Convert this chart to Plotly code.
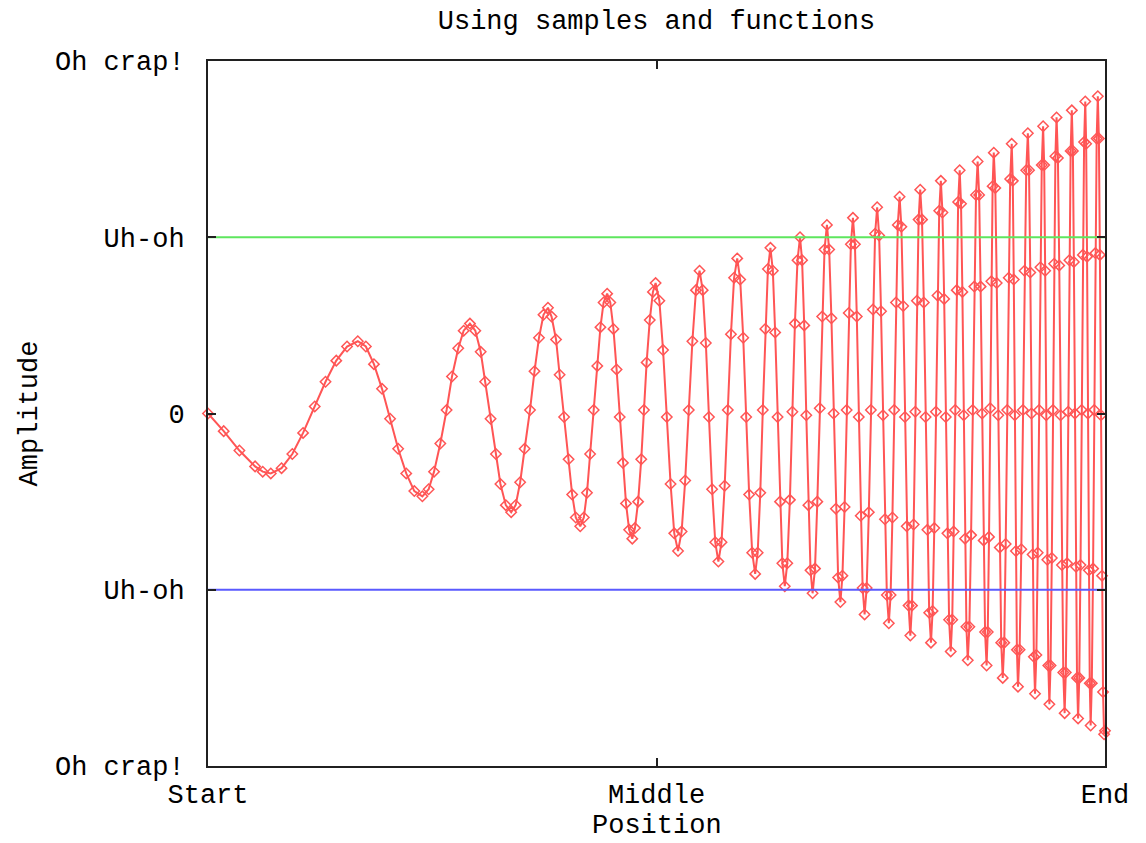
import plotly.graph_objects as go

# ---- data ----
# sampled signal: position (0 = Start, 50 = Middle, 100 = End), amplitude (Uh-oh = 1, Oh crap! = 2)
position = [
    0.0, 1.75, 3.5, 5.25, 6.1, 7.0,
    8.2, 9.4, 10.6, 11.9, 13.1, 14.3, 15.5, 16.7,
    17.6, 18.5, 19.4, 20.3, 21.2, 22.1, 23.0, 23.9,
    24.6, 25.2, 25.9, 26.6, 27.2, 27.9, 28.5, 29.2,
    29.8, 30.4, 30.9, 31.5, 32.1, 32.6, 33.2, 33.8,
    34.3, 34.8, 35.3, 35.9, 36.4, 36.9, 37.4, 37.9,
    38.3, 38.8, 39.2, 39.7, 40.2, 40.6, 41.0, 41.5,
    41.9, 42.25, 42.6, 43.0, 43.4, 43.75, 44.1, 44.5,
    44.85, 45.2, 45.55, 45.9, 46.25, 46.6, 46.95, 47.3,
    47.6, 47.95, 48.3, 48.6, 48.9, 49.25, 49.6, 49.9,
    50.32, 50.73, 51.15, 51.57, 51.98, 52.4,
    52.8, 53.2, 53.6, 54.0, 54.4, 54.8,
    55.15, 55.5, 55.85, 56.2, 56.55, 56.9,
    57.25, 57.6, 57.95, 58.3, 58.65, 59.0,
    59.33, 59.67, 60.0, 60.33, 60.67, 61.0,
    61.28, 61.57, 61.85, 62.13, 62.42, 62.7,
    62.97, 63.23, 63.5, 63.77, 64.03, 64.3,
    64.58, 64.87, 65.15, 65.43, 65.72, 66.0,
    66.23, 66.47, 66.7, 66.93, 67.17, 67.4,
    67.67, 67.93, 68.2, 68.47, 68.73, 69.0,
    69.25, 69.5, 69.75, 70.0, 70.25, 70.5,
    70.73, 70.97, 71.2, 71.43, 71.67, 71.9,
    72.12, 72.33, 72.55, 72.77, 72.98, 73.2,
    73.43, 73.67, 73.9, 74.13, 74.37, 74.6,
    74.82, 75.03, 75.25, 75.47, 75.68, 75.9,
    76.1, 76.3, 76.5, 76.7, 76.9, 77.1,
    77.3, 77.5, 77.7, 77.9, 78.1, 78.3,
    78.48, 78.67, 78.85, 79.03, 79.22, 79.4,
    79.6, 79.8, 80.0, 80.2, 80.4, 80.6,
    80.78, 80.97, 81.15, 81.33, 81.52, 81.7,
    81.88, 82.07, 82.25, 82.43, 82.62, 82.8,
    82.97, 83.13, 83.3, 83.47, 83.63, 83.8,
    83.95, 84.1, 84.25, 84.4, 84.55, 84.7,
    84.88, 85.07, 85.25, 85.43, 85.62, 85.8,
    85.97, 86.13, 86.3, 86.47, 86.63, 86.8,
    86.93, 87.07, 87.2, 87.33, 87.47, 87.6,
    87.77, 87.93, 88.1, 88.27, 88.43, 88.6,
    88.77, 88.93, 89.1, 89.27, 89.43, 89.6,
    89.72, 89.83, 89.95, 90.07, 90.18, 90.3,
    90.48, 90.67, 90.85, 91.03, 91.22, 91.4,
    91.53, 91.67, 91.8, 91.93, 92.07, 92.2,
    92.35, 92.5, 92.65, 92.8, 92.95, 93.1,
    93.22, 93.33, 93.45, 93.57, 93.68, 93.8,
    93.93, 94.07, 94.2, 94.33, 94.47, 94.6,
    94.75, 94.9, 95.05, 95.2, 95.35, 95.5,
    95.63, 95.77, 95.9, 96.03, 96.17, 96.3,
    96.42, 96.53, 96.65, 96.77, 96.88, 97.0,
    97.13, 97.27, 97.4, 97.53, 97.67, 97.8,
    97.9, 98.0, 98.1, 98.2, 98.3, 98.4,
    98.53, 98.67, 98.8, 98.93, 99.07, 99.2,
    99.32, 99.43, 99.55, 99.67, 99.78, 99.9,
    100.0,
]
amplitude = [
    0.00, -0.10, -0.21, -0.30, -0.33, -0.34,
    -0.31, -0.23, -0.11, 0.04, 0.18, 0.30, 0.38, 0.41,
    0.38, 0.28, 0.14, -0.03, -0.20, -0.34, -0.44, -0.47,
    -0.43, -0.33, -0.17, 0.02, 0.21, 0.37, 0.47, 0.51,
    0.47, 0.35, 0.18, -0.03, -0.23, -0.40, -0.52, -0.56,
    -0.52, -0.39, -0.20, 0.02, 0.24, 0.43, 0.56, 0.60,
    0.55, 0.42, 0.22, -0.02, -0.26, -0.46, -0.59, -0.64,
    -0.59, -0.45, -0.23, 0.02, 0.27, 0.49, 0.63, 0.68,
    0.63, 0.48, 0.25, -0.02, -0.28, -0.51, -0.66, -0.71,
    -0.65, -0.50, -0.26, 0.02, 0.29, 0.53, 0.69, 0.74,
    0.64, 0.36, -0.02, -0.40, -0.68, -0.78,
    -0.67, -0.38, 0.02, 0.41, 0.70, 0.81,
    0.70, 0.40, -0.02, -0.43, -0.73, -0.84,
    -0.73, -0.41, 0.02, 0.45, 0.77, 0.88,
    0.76, 0.43, -0.02, -0.46, -0.79, -0.91,
    -0.79, -0.45, 0.02, 0.48, 0.82, 0.94,
    0.81, 0.46, -0.02, -0.50, -0.85, -0.98,
    -0.85, -0.49, 0.01, 0.51, 0.87, 1.00,
    0.87, 0.50, -0.01, -0.52, -0.89, -1.02,
    -0.88, -0.50, 0.03, 0.55, 0.93, 1.07,
    0.93, 0.54, 0.00, -0.54, -0.93, -1.07,
    -0.92, -0.53, 0.02, 0.57, 0.96, 1.11,
    0.96, 0.55, -0.02, -0.58, -0.99, -1.14,
    -0.99, -0.56, 0.02, 0.59, 1.02, 1.17,
    1.01, 0.58, -0.01, -0.60, -1.03, -1.19,
    -1.03, -0.59, 0.02, 0.63, 1.07, 1.23,
    1.06, 0.61, -0.02, -0.64, -1.09, -1.26,
    -1.09, -0.63, 0.01, 0.64, 1.10, 1.27,
    1.10, 0.63, -0.02, -0.66, -1.13, -1.30,
    -1.12, -0.65, 0.01, 0.67, 1.15, 1.32,
    1.14, 0.65, -0.02, -0.68, -1.17, -1.35,
    -1.17, -0.67, 0.02, 0.70, 1.20, 1.38,
    1.19, 0.69, -0.01, -0.71, -1.21, -1.40,
    -1.21, -0.69, 0.02, 0.72, 1.24, 1.43,
    1.24, 0.72, 0.00, -0.72, -1.24, -1.43,
    -1.24, -0.70, 0.03, 0.75, 1.29, 1.48,
    1.28, 0.74, -0.01, -0.76, -1.30, -1.50,
    -1.30, -0.74, 0.02, 0.77, 1.33, 1.53,
    1.32, 0.76, -0.01, -0.78, -1.34, -1.55,
    -1.34, -0.77, 0.02, 0.81, 1.38, 1.59,
    1.38, 0.80, 0.00, -0.80, -1.38, -1.59,
    -1.37, -0.79, 0.02, 0.83, 1.41, 1.63,
    1.41, 0.81, -0.01, -0.83, -1.43, -1.65,
    -1.43, -0.82, 0.02, 0.85, 1.46, 1.68,
    1.45, 0.84, -0.01, -0.86, -1.47, -1.70,
    -1.47, -0.85, 0.01, 0.87, 1.49, 1.72,
    1.49, 0.86, 0.00, -0.87, -1.50, -1.73,
    -1.50, -0.86, 0.02, 0.90, 1.54, 1.77,
    1.53, 0.89, 0.00, -0.89, -1.53, -1.77,
    -1.53, -0.88, 0.02, 0.91, 1.56, 1.80,
    1.56, 0.90, -0.01, -0.92, -1.58, -1.82,
    -1.80,
]

# constant functions
func_x = [0, 100]
upper_func = [1, 1]
lower_func = [-1, -1]

x_tickvals = [0, 50, 100]
x_ticktext = ["Start", "Middle", "End"]
y_tickvals = [-2, -1, 0, 1, 2]
y_ticktext = ["Oh crap!", "Uh-oh", "0", "Uh-oh", "Oh crap!"]

FONT = "Liberation Mono"
RED = "#ff5555"

fig = go.Figure()
fig.add_trace(go.Scatter(
    x=position, y=amplitude, mode="lines+markers",
    line=dict(color=RED, width=2),
    marker=dict(symbol="diamond-open", size=8, color=RED, line=dict(width=1.5, color=RED)),
    cliponaxis=False, showlegend=False,
))
fig.add_trace(go.Scatter(x=func_x, y=upper_func, mode="lines",
                         line=dict(color="#5ee65e", width=2), showlegend=False))
fig.add_trace(go.Scatter(x=func_x, y=lower_func, mode="lines",
                         line=dict(color="#5a5aff", width=2), showlegend=False))

axis_common = dict(
    showline=True, linecolor="#202020", linewidth=2, mirror="ticks",
    ticks="inside", ticklen=8, tickwidth=1.5, tickcolor="#202020",
    showgrid=False, zeroline=False, automargin=False,
    tickfont=dict(family=FONT, size=27, color="black"),
)

fig.update_layout(
    width=1146, height=843,
    margin=dict(l=208, r=41, t=61, b=77),
    paper_bgcolor="white", plot_bgcolor="white",
    font=dict(family=FONT, size=27, color="black"),
    title=dict(text="Using samples and functions", x=0.5, xref="paper",
               y=1 - 20 / 843, yanchor="middle", yref="container",
               font=dict(family=FONT, size=27, color="black")),
    xaxis=dict(range=[0, 100], tickvals=x_tickvals, ticktext=x_ticktext,
               ticklabelstandoff=3, **axis_common),
    yaxis=dict(range=[-2, 2], tickvals=y_tickvals, ticktext=y_ticktext,
               ticklabelstandoff=16,
               title=dict(text="Amplitude", standoff=10,
                          font=dict(family=FONT, size=27, color="black")),
               **axis_common),
    annotations=[dict(text="Position", xref="paper", yref="paper", x=0.5, y=0,
                      xanchor="center", yanchor="middle", yshift=-60, showarrow=False,
                      font=dict(family=FONT, size=27, color="black"))],
)

fig.write_html("out.html")
